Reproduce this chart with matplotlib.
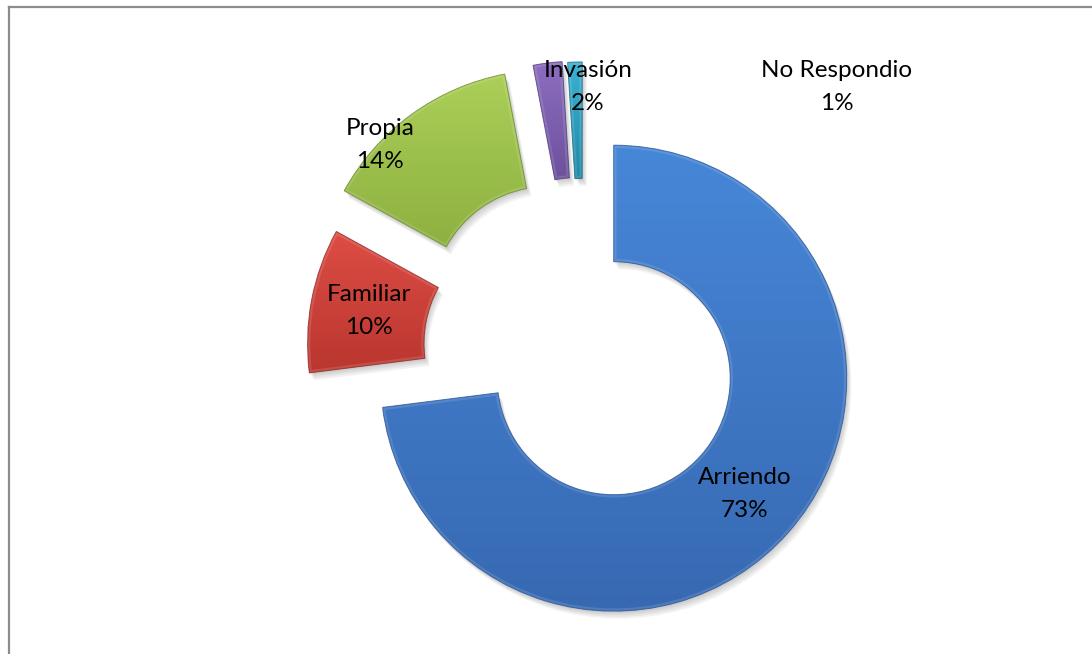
import numpy as np
import matplotlib
matplotlib.use("Agg")
import matplotlib.pyplot as plt
from matplotlib.patches import Wedge
from matplotlib.lines import Line2D

# Tipo de tenencia de la vivienda
labels = ["Arriendo", "Familiar", "Propia", "Invasión", "No Respondio"]
values = [73, 10, 14, 2, 1]

top_colors = ["#4787d8", "#dd4d45", "#abcf58", "#8d6dc0", "#3cb2d2"]
bottom_colors = ["#3769b2", "#b9362f", "#8db040", "#6c519c", "#2088a6"]
edge_colors = ["#2c5596", "#8e2824", "#6b8a2c", "#4f3a78", "#186a82"]

# distance each slice is pulled out from the centre (fraction of radius)
explode = [0.17, 0.19, 0.26, 0.25, 0.245]
ring_width = 0.5

# label placement: None -> middle of the ring, otherwise fixed position
label_pos = [None, None, (-0.876, 0.888), (0.017, 1.137), (1.086, 1.137)]

plt.rcParams["font.family"] = ["Lato", "DejaVu Sans"]

fig = plt.figure(figsize=(10.92, 6.54), dpi=100)
ax = fig.add_axes([0, 0, 1, 1])
ax.axis("off")

cx_px, cy_px, r_px = 584, 352, 233


def gradient_image(c_top, c_bot, n=256):
    t = np.linspace(0, 1, n)[:, None, None]
    a = np.array(matplotlib.colors.to_rgb(c_top))[None, None, :]
    b = np.array(matplotlib.colors.to_rgb(c_bot))[None, None, :]
    return a * (1 - t) + b * t


total = float(sum(values))
theta = 90.0
for i, (lab, v) in enumerate(zip(labels, values)):
    sweep = v / total * 360.0
    t2 = theta
    t1 = theta - sweep
    mid = np.deg2rad((t1 + t2) / 2)
    c = (explode[i] * np.cos(mid), explode[i] * np.sin(mid))

    # soft drop shadow
    for k in range(4):
        ax.add_patch(Wedge((c[0] + 0.005 * (k + 1), c[1] - 0.008 * (k + 1)), 1.0, t1, t2,
                           width=ring_width, facecolor="black", edgecolor="none",
                           alpha=0.05, zorder=1))

    w = Wedge(c, 1.0, t1, t2, width=ring_width, facecolor="none", edgecolor="none", zorder=2)
    ax.add_patch(w)

    ang = np.deg2rad(np.linspace(t1, t2, 100))
    xs = np.concatenate([c[0] + np.cos(ang), c[0] + (1 - ring_width) * np.cos(ang)])
    ys = np.concatenate([c[1] + np.sin(ang), c[1] + (1 - ring_width) * np.sin(ang)])
    im = ax.imshow(gradient_image(top_colors[i], bottom_colors[i]),
                   extent=(xs.min(), xs.max(), ys.min(), ys.max()),
                   origin="upper", aspect="auto", interpolation="bilinear", zorder=2)
    im.set_clip_path(w)

    # bevel highlight along the inside of the outline
    hl = Wedge(c, 1.0, t1, t2, width=ring_width, fill=False, edgecolor="white",
               lw=4, alpha=0.12, zorder=3)
    ax.add_patch(hl)
    hl.set_clip_path(w)
    ax.add_patch(Wedge(c, 1.0, t1, t2, width=ring_width, fill=False,
                       edgecolor=edge_colors[i], lw=0.7, alpha=0.8, zorder=4))

    if label_pos[i] is None:
        rm = 1 - ring_width / 2
        lx, ly = c[0] + rm * np.cos(mid), c[1] + rm * np.sin(mid)
    else:
        lx, ly = label_pos[i]
    ax.text(lx, ly, f"{lab}\n{v}%", ha="center", va="center", fontsize=17.5,
            linespacing=1.72, color="black", zorder=5)

    theta = t1

ax.set_xlim(-cx_px / r_px, (1092 - cx_px) / r_px)
ax.set_ylim(-(654 - cy_px) / r_px, cy_px / r_px)

# chart frame (left and top edges)
fig.add_artist(Line2D([8.5 / 1092, 8.5 / 1092], [0, 1 - 7 / 654], color="#8c8c8c", lw=1.6))
fig.add_artist(Line2D([8.5 / 1092, 1], [1 - 7 / 654, 1 - 7 / 654], color="#8c8c8c", lw=1.6))

fig.savefig("out.png", dpi=100)
